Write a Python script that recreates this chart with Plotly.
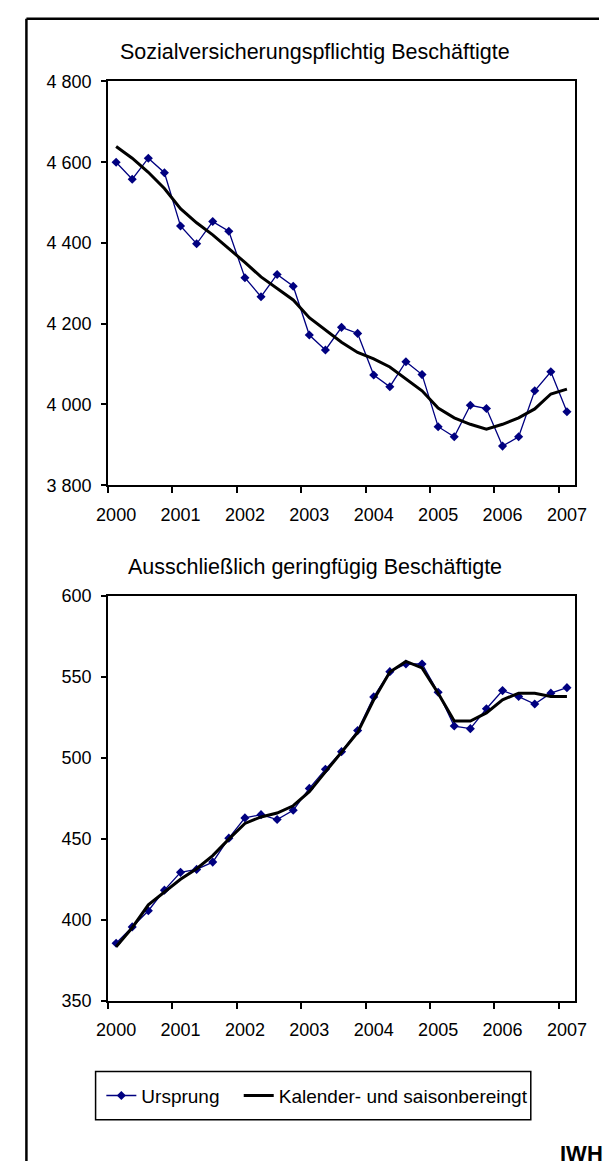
import plotly.graph_objects as go

# Quartale 2000 Q1 bis 2007 Q1 (29 Werte), x = laufende Nummer
quartal = list(range(29))
jahre = ["2000", "2001", "2002", "2003", "2004", "2005", "2006", "2007"]
jahr_pos = [0, 4, 8, 12, 16, 20, 24, 28]
jahr_grenzen = [-0.5, 3.5, 7.5, 11.5, 15.5, 19.5, 23.5, 27.5]

# Sozialversicherungspflichtig Beschäftigte (in 1 000)
svb_ursprung = [4600, 4558, 4610, 4574, 4442, 4398, 4453, 4429, 4314, 4267,
                4322, 4293, 4172, 4135, 4191, 4176, 4073, 4044, 4106, 4074,
                3945, 3920, 3998, 3990, 3897, 3920, 4034, 4081, 3982]
svb_bereinigt = [4639, 4610, 4575, 4535, 4485, 4450, 4420, 4387, 4352, 4316,
                 4288, 4259, 4215, 4185, 4154, 4129, 4113, 4093, 4064, 4034,
                 3991, 3967, 3951, 3939, 3951, 3967, 3989, 4026, 4038]

# Ausschließlich geringfügig Beschäftigte (in 1 000)
gb_ursprung = [385.5, 395.6, 405.6, 418.3, 429.3, 431.1, 435.6, 450.4, 462.9, 464.9,
               461.9, 467.6, 481.1, 492.9, 503.8, 516.8, 537.6, 553.2, 557.9, 557.9,
               540.5, 519.6, 518.0, 530.3, 541.5, 537.8, 533.2, 539.9, 543.3]
gb_bereinigt = [383.3, 395.1, 409.2, 417.3, 425.0, 431.5, 439.6, 449.8, 459.5, 463.5,
                465.9, 470.4, 479.1, 491.3, 503.4, 515.6, 535.8, 553.0, 559.5, 555.5,
                539.9, 522.7, 522.7, 527.7, 535.8, 539.9, 539.9, 537.8, 537.8]

W, H = 611, 1171
FONT = "Liberation Sans, Arial, sans-serif"
BLAU = "#000080"


def px_x(v):
    return v / W


def px_y(v):
    return 1 - v / H


fig = go.Figure()

# ── oben: sozialversicherungspflichtig ─────────────────────────
fig.add_trace(go.Scatter(
    x=quartal, y=svb_ursprung, name="Ursprung", mode="lines+markers",
    line=dict(color=BLAU, width=1.3), marker=dict(symbol="diamond", size=7, color=BLAU),
    xaxis="x", yaxis="y", legend="legend",
))
fig.add_trace(go.Scatter(
    x=quartal, y=svb_bereinigt, name="Kalender- und saisonbereingt", mode="lines",
    line=dict(color="black", width=3),
    xaxis="x", yaxis="y", legend="legend2",
))

# ── unten: geringfügig ─────────────────────────────────────────
fig.add_trace(go.Scatter(
    x=quartal, y=gb_ursprung, name="Ursprung", mode="lines+markers", showlegend=False,
    line=dict(color=BLAU, width=1.3), marker=dict(symbol="diamond", size=7, color=BLAU),
    xaxis="x2", yaxis="y2",
))
fig.add_trace(go.Scatter(
    x=quartal, y=gb_bereinigt, name="Kalender- und saisonbereingt", mode="lines",
    showlegend=False, line=dict(color="black", width=3),
    xaxis="x2", yaxis="y2",
))

achse_x = dict(
    range=[-0.5, 28.5], tickvals=jahr_pos, ticktext=jahre, ticks="",
    ticklabelstandoff=12,
    minor=dict(tickvals=jahr_grenzen, ticks="outside", ticklen=6, tickwidth=1.5,
               tickcolor="black"),
    showline=True, linecolor="black", linewidth=2, mirror=True,
    showgrid=False, zeroline=False, fixedrange=True,
    tickfont=dict(size=18, color="black"),
)
achse_y = dict(
    ticks="outside", ticklen=5, tickwidth=1.5, tickcolor="black",
    ticklabelstandoff=6, separatethousands=True,
    showline=True, linecolor="black", linewidth=2, mirror=True,
    showgrid=False, zeroline=False, fixedrange=True,
    tickfont=dict(size=18, color="black"),
)

legende = dict(
    orientation="h", y=px_y(1104.5), xanchor="left", yanchor="middle",
    borderwidth=0, bgcolor="rgba(0,0,0,0)", font=dict(size=19, family=FONT),
)

fig.update_layout(
    width=W, height=H,
    margin=dict(l=0, r=0, t=0, b=0),
    paper_bgcolor="white", plot_bgcolor="white",
    font=dict(family=FONT, color="black"),
    separators=", ",
    showlegend=True,
    xaxis=dict(achse_x, domain=[px_x(100), px_x(586)], anchor="y"),
    yaxis=dict(achse_y, domain=[px_y(483.5), px_y(72.7)], anchor="x",
               range=[3800, 4800], tickvals=[3800, 4000, 4200, 4400, 4600, 4800]),
    xaxis2=dict(achse_x, domain=[px_x(100), px_x(586)], anchor="y2"),
    yaxis2=dict(achse_y, domain=[px_y(1008), px_y(596)], anchor="x2",
                range=[350, 600], tickvals=[350, 400, 450, 500, 550, 600]),
    legend=dict(legende, x=px_x(93)),
    legend2=dict(legende, x=px_x(236)),
    annotations=[
        dict(text="Sozialversicherungspflichtig Beschäftigte", x=px_x(315), y=px_y(43),
             xref="paper", yref="paper", showarrow=False, xanchor="center",
             yanchor="middle", font=dict(size=21.5)),
        dict(text="Ausschließlich geringfügig Beschäftigte", x=px_x(315), y=px_y(567),
             xref="paper", yref="paper", showarrow=False, xanchor="center",
             yanchor="middle", font=dict(size=21.5)),
        dict(text="<b>IWH</b>", x=px_x(568), y=px_y(1163), xref="paper", yref="paper",
             showarrow=False, xanchor="left", yanchor="middle", font=dict(size=22)),
    ],
    shapes=[
        # Rahmen links und oben
        dict(type="line", xref="paper", yref="paper", x0=px_x(15), x1=px_x(15),
             y0=0, y1=px_y(9), line=dict(color="black", width=2.5)),
        dict(type="line", xref="paper", yref="paper", x0=px_x(15), x1=1,
             y0=px_y(9), y1=px_y(9), line=dict(color="black", width=2.5)),
        # Legendenrahmen
        dict(type="rect", xref="paper", yref="paper", x0=px_x(87), x1=px_x(540),
             y0=px_y(1129), y1=px_y(1080), line=dict(color="black", width=1.5)),
    ],
)

# Seitenrand des Browsers entfernen, damit die Grafik bei (0, 0) beginnt
fig.write_html("out.html", config={"displayModeBar": False},
               post_script="document.body.style.margin='0';"
                           "document.body.style.overflow='hidden';")
